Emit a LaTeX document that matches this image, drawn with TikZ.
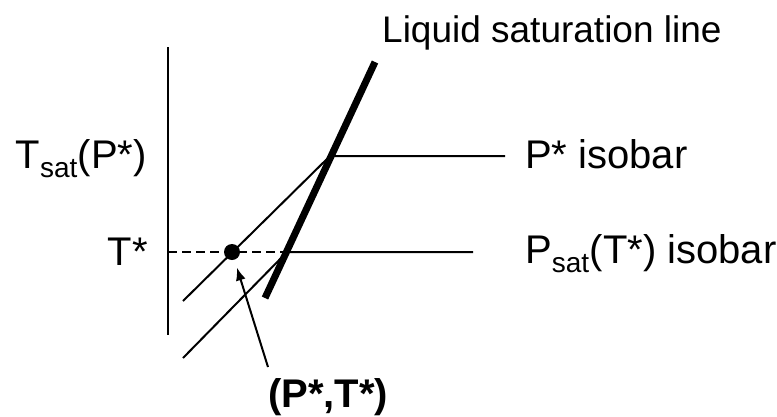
\documentclass[tikz,border=0pt]{standalone}
\usepackage{fontspec}
\setmainfont{Liberation Sans}
\usetikzlibrary{arrows.meta}

\begin{document}
\begin{tikzpicture}[x=1pt, y=-1pt,
    lbl/.style={inner sep=0pt, font=\fontsize{40}{48}\selectfont},
    isoline/.style={line width=2pt, black},
    satline/.style={line width=7pt, black}]
        \useasboundingbox (0,0) rectangle (777,416);

        % Define points of the diagram
        \coordinate (AxTop) at (168, 47);     % Top of axis
        \coordinate (AxBot) at (168, 335);    % Bottom of axis
        \coordinate (SatLo) at (265, 298);    % Bottom of saturation line
        \coordinate (SatHi) at (375, 62);     % Top of saturation line
        \coordinate (PStar) at (330, 156);    % P* isobar meets saturation line
        \coordinate (PSat) at (287, 252);     % Psat isobar meets saturation line
        \coordinate (PStarEnd) at (505, 156); % End of P* isobar
        \coordinate (PSatEnd) at (473, 252);  % End of Psat isobar
        \coordinate (UpStart) at (183, 301);  % Start of upper sloped line
        \coordinate (LoStart) at (183, 358);  % Start of lower sloped line
        \coordinate (TLeft) at (168, 252);    % T* on axis
        \coordinate (Tail) at (268, 367);     % Tail of arrow

        % Labels
        \node[lbl, font=\fontsize{37}{44}\selectfont, anchor=base west] (title) at (382, 42) {Liquid saturation line};
        \node[lbl, anchor=base west] (pstarlbl) at (525, 168) {P* isobar};
        \node[lbl, anchor=base west] (psatlbl) at (525, 263) {P\textsubscript{sat}(T*) isobar};
        \node[lbl, anchor=base east] (tsatlbl) at (147, 168) {T\textsubscript{sat}(P*)};
        \node[lbl, anchor=base east] (tstarlbl) at (148, 265) {T*};
        \node[lbl, font=\fontsize{40}{48}\selectfont\bfseries, anchor=base west] (ptlbl) at (268, 407) {(P*,T*)};

        % Axis
        \draw[isoline] (AxTop) -- (AxBot);

        % Isobars
        \draw[isoline] (UpStart) -- (PStar) -- (PStarEnd);
        \draw[isoline] (LoStart) -- (PSat) -- (PSatEnd);
        \draw[isoline, dash pattern=on 9pt off 5pt] (TLeft) -- (PSat);

        % Saturation line
        \draw[satline] (SatLo) -- (SatHi);

        % The state point and its arrow
        \node[circle, fill=black, inner sep=0pt, minimum size=16pt] (dot) at (232, 252) {};
        \draw[isoline, -{Latex[length=13pt, width=10pt]}, shorten >=8pt] (Tail) -- (dot);

    \end{tikzpicture}
\end{document}
